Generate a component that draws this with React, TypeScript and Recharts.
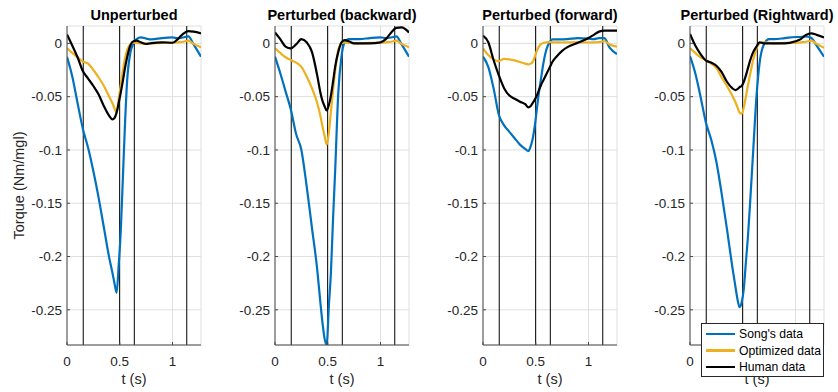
import React from 'react';
import {
  LineChart,
  Line,
  XAxis,
  YAxis,
  CartesianGrid,
  ReferenceLine,
} from 'recharts';

// shared time grid (s) the traces were read on
const timeGrid = [
  0, 0.05, 0.1, 0.15, 0.2, 0.25, 0.3, 0.35, 0.4, 0.43, 0.45, 0.47, 0.49, 0.51,
  0.53, 0.55, 0.57, 0.6, 0.63, 0.66, 0.7, 0.75, 0.8, 0.9, 1.0, 1.05, 1.1, 1.15,
  1.2, 1.27,
];

// phase markers (s)
const eventTimes = [0.154, 0.499, 0.638, 1.135];

const xTicks = [0, 0.5, 1];
const yTicks = [0, -0.05, -0.1, -0.15, -0.2, -0.25];

const panelTitles = [
  'Unperturbed',
  'Perturbed (backward)',
  'Perturbed (forward)',
  'Perturbed (Rightward)',
];

const seriesNames = ["Song's data", 'Optimized data', 'Human data'];
const seriesColors = ['#0072BD', '#EDB120', '#000000'];

// Unperturbed
const unpertSong = [
  -0.0125, -0.031, -0.056, -0.08, -0.098, -0.12, -0.145, -0.173, -0.201, -0.215,
  -0.225, -0.234, -0.208, -0.175, -0.125, -0.075, -0.035, -0.009, 0, 0.004,
  0.0056, 0.0045, 0.0037, 0.005, 0.0056, 0.0047, 0.0055, 0.0066, -0.001, -0.0125,
];
const unpertOpt = [
  -0.0047, -0.009, -0.013, -0.017, -0.019, -0.025, -0.032, -0.04, -0.05, -0.056,
  -0.061, -0.065, -0.052, -0.039, -0.025, -0.014, -0.006, -0.001, 0.0006, 0.0005,
  0, 0, 0, 0.0005, 0.0005, 0.001, 0.0015, 0.0025, -0.0005, -0.0037,
];
const unpertHuman = [
  0.0084, -0.002, -0.013, -0.026, -0.033, -0.04, -0.048, -0.059, -0.068, -0.0713,
  -0.07, -0.065, -0.056, -0.046, -0.035, -0.023, -0.013, -0.002, 0.002, 0.0025,
  0.001, -0.0006, 0.0003, 0.001, 0.0006, 0.004, 0.009, 0.0115, 0.011, 0.0094,
];

// Perturbed (backward)
const backSong = [
  -0.0125, -0.028, -0.045, -0.062, -0.085, -0.1, -0.134, -0.173, -0.212, -0.243,
  -0.262, -0.277, -0.283, -0.247, -0.215, -0.165, -0.12, -0.046, -0.0125, 0.001,
  0.004, 0.004, 0.004, 0.005, 0.0056, 0.005, 0.0055, 0.0065, -0.001, -0.0125,
];
const backOpt = [
  -0.0047, -0.009, -0.013, -0.0156, -0.018, -0.022, -0.031, -0.042, -0.056,
  -0.068, -0.078, -0.087, -0.095, -0.084, -0.064, -0.044, -0.026, -0.006, 0,
  0.001, 0.0005, 0, 0, 0.0005, 0.0005, 0.001, 0.0015, 0.0025, -0.0005, -0.0037,
];
const backHuman = [
  0.0103, 0.004, -0.003, -0.0047, -0.001, 0.004, 0.001, -0.008, -0.03, -0.046,
  -0.054, -0.059, -0.063, -0.058, -0.049, -0.036, -0.022, -0.008, 0.001, 0.003,
  0.002, 0, 0, 0, 0.001, 0.004, 0.01, 0.0145, 0.015, 0.0103,
];

// Perturbed (forward)
const fwdSong = [
  -0.0125, -0.022, -0.042, -0.067, -0.077, -0.083, -0.089, -0.095, -0.099,
  -0.101, -0.097, -0.09, -0.078, -0.062, -0.046, -0.033, -0.02, -0.006, 0.001,
  0.0037, 0.0037, 0.0037, 0.004, 0.005, 0.0045, 0.004, 0.005, 0.005, -0.004,
  -0.01,
];
const fwdOpt = [
  -0.0047, -0.011, -0.015, -0.0166, -0.0145, -0.015, -0.016, -0.0175, -0.019,
  -0.0197, -0.019, -0.0175, -0.013, -0.007, -0.003, -0.0005, 0.0003, 0.001,
  0.0012, 0.001, 0.001, 0.0008, 0.001, 0.001, 0.0008, 0.001, 0.0012, 0.002,
  -0.001, -0.003,
];
const fwdHuman = [
  0.0072, 0.001, -0.0156, -0.03, -0.042, -0.049, -0.052, -0.0547, -0.057, -0.06,
  -0.059, -0.056, -0.053, -0.049, -0.044, -0.039, -0.035, -0.029, -0.023,
  -0.017, -0.012, -0.007, -0.0035, 0.0005, 0.005, 0.008, 0.011, 0.0119, 0.0119,
  0.0119,
];

// Perturbed (Rightward)
const rightSong = [
  -0.012, -0.028, -0.05, -0.074, -0.09, -0.111, -0.141, -0.174, -0.209, -0.228,
  -0.24, -0.2475, -0.243, -0.23, -0.205, -0.18, -0.149, -0.099, -0.05, -0.018,
  -0.001, 0.004, 0.004, 0.005, 0.006, 0.006, 0.0065, 0.005, -0.002, -0.0125,
];
const rightOpt = [
  -0.0047, -0.009, -0.013, -0.0156, -0.019, -0.023, -0.032, -0.04, -0.049,
  -0.055, -0.06, -0.065, -0.066, -0.06, -0.05, -0.039, -0.029, -0.015, -0.005,
  0, 0.001, 0.0005, 0, 0.0005, 0.0005, 0.001, 0.0015, 0.0025, -0.0005, -0.004,
];
const rightHuman = [
  0.0088, -0.002, -0.01, -0.016, -0.018, -0.021, -0.027, -0.036, -0.042,
  -0.0438, -0.043, -0.041, -0.04, -0.036, -0.03, -0.023, -0.016, -0.008, -0.003,
  0.001, 0, 0, 0, 0, 0.002, 0.004, 0.008, 0.0094, 0.008, 0.0056,
];

const panelSeries = [
  [unpertSong, unpertOpt, unpertHuman],
  [backSong, backOpt, backHuman],
  [fwdSong, fwdOpt, fwdHuman],
  [rightSong, rightOpt, rightHuman],
];

const FONT = "'Liberation Sans', Arial, Helvetica, sans-serif";
const AXIS = '#262626';
const BOX = '#4a4a4a';
const PLOT_W = 134;
const Y_AXIS_W = 40;
const CHART_W = 180;
const CHART_H = 392;
const PLOT_TOP = 26;
const X_AXIS_H = 30;
const PLOT_BOTTOM = 345;
const plotLefts = [67, 275, 483, 690];
const xDomain = [0, 1.27];
const yDomain = [-0.283, 0.0163];
const keys = ['song', 'opt', 'human'];

const buildRows = (series: number[][]) =>
  timeGrid.map((t, i) => ({
    t,
    song: series[0][i],
    opt: series[1][i],
    human: series[2][i],
  }));

const Panel = ({
  series,
  left,
  underLegend,
}: {
  series: number[][];
  left: number;
  underLegend: boolean;
}) => {
  const rows = buildRows(series);
  // in the last panel the legend box hides the 0.5 and 1 labels
  const xFmt = (v: number) => (underLegend && v > 0 ? '' : String(v));
  return (
    <div style={{ position: 'absolute', left: left - Y_AXIS_W, top: 0 }}>
      <LineChart
        width={CHART_W}
        height={CHART_H}
        data={rows}
        margin={{
          top: PLOT_TOP,
          right: CHART_W - Y_AXIS_W - PLOT_W,
          bottom: CHART_H - PLOT_BOTTOM - X_AXIS_H,
          left: 0,
        }}
      >
        <CartesianGrid stroke="#dfdfdf" strokeWidth={1} />
        <XAxis
          dataKey="t"
          type="number"
          domain={xDomain}
          ticks={xTicks}
          allowDataOverflow
          interval={0}
          height={X_AXIS_H}
          tickSize={-3}
          tickMargin={14}
          stroke={BOX}
          tickFormatter={xFmt}
          tick={{ fill: AXIS, fontSize: 13.5, fontFamily: FONT }}
        />
        <XAxis
          xAxisId="top"
          orientation="top"
          dataKey="t"
          type="number"
          domain={xDomain}
          ticks={xTicks}
          allowDataOverflow
          height={0}
          tickSize={-3}
          tick={false}
          stroke={BOX}
        />
        <YAxis
          type="number"
          domain={yDomain}
          ticks={yTicks}
          allowDataOverflow
          interval={0}
          width={Y_AXIS_W}
          tickSize={-3}
          tickMargin={8}
          stroke={BOX}
          tick={{ fill: AXIS, fontSize: 13.5, fontFamily: FONT }}
        />
        <YAxis
          yAxisId="right"
          orientation="right"
          type="number"
          domain={yDomain}
          ticks={yTicks}
          allowDataOverflow
          width={0}
          tickSize={-3}
          tick={false}
          stroke={BOX}
        />
        {eventTimes.map((v) => (
          <ReferenceLine key={v} x={v} stroke="#000" strokeWidth={1} />
        ))}
        {keys.map((k, i) => (
          <Line
            key={k}
            type="monotone"
            dataKey={k}
            stroke={seriesColors[i]}
            strokeWidth={2.2}
            dot={false}
            activeDot={false}
            isAnimationActive={false}
          />
        ))}
      </LineChart>
    </div>
  );
};

const App = () => {
  return (
    <div
      style={{
        position: 'absolute',
        left: 0,
        top: 0,
        width: 838,
        height: 392,
        background: '#fff',
        overflow: 'hidden',
        fontFamily: FONT,
      }}
    >
      {panelSeries.map((s, i) => (
        <Panel
          key={panelTitles[i]}
          series={s}
          left={plotLefts[i]}
          underLegend={i === panelSeries.length - 1}
        />
      ))}

      <svg
        width={838}
        height={392}
        style={{ position: 'absolute', left: 0, top: 0, pointerEvents: 'none' }}
        fontFamily={FONT}
      >
        {panelTitles.map((title, i) => (
          <text
            key={title}
            x={plotLefts[i] + PLOT_W / 2}
            y={20}
            textAnchor="middle"
            fontWeight="bold"
            fontSize={14.5}
            fill="#000"
          >
            {title}
          </text>
        ))}
        {plotLefts.map((l) => (
          <text
            key={l}
            x={l + PLOT_W / 2}
            y={384}
            textAnchor="middle"
            fontSize={14.5}
            fill={AXIS}
          >
            t (s)
          </text>
        ))}
        <text
          transform="translate(24,185.5) rotate(-90)"
          textAnchor="middle"
          fontSize={14.5}
          fill={AXIS}
        >
          Torque (Nm/mgl)
        </text>
      </svg>

      {/* legend sits over the last panel's axis label, as in the figure */}
      <div
        style={{
          position: 'absolute',
          left: 701,
          top: 323,
          width: 123,
          height: 54,
          boxSizing: 'border-box',
          border: `1px solid ${AXIS}`,
          background: '#fff',
        }}
      >
        {seriesNames.map((name, i) => (
          <div
            key={name}
            style={{
              position: 'absolute',
              left: 0,
              top: 2 + i * 16.5,
              height: 16,
              display: 'flex',
              alignItems: 'center',
            }}
          >
            <div
              style={{
                marginLeft: 4,
                width: 29,
                height: 2.2,
                background: seriesColors[i],
              }}
            />
            <span
              style={{
                marginLeft: 4,
                fontSize: 12.2,
                lineHeight: '16px',
                color: '#000',
                whiteSpace: 'nowrap',
              }}
            >
              {name}
            </span>
          </div>
        ))}
      </div>
    </div>
  );
};

export default App;
